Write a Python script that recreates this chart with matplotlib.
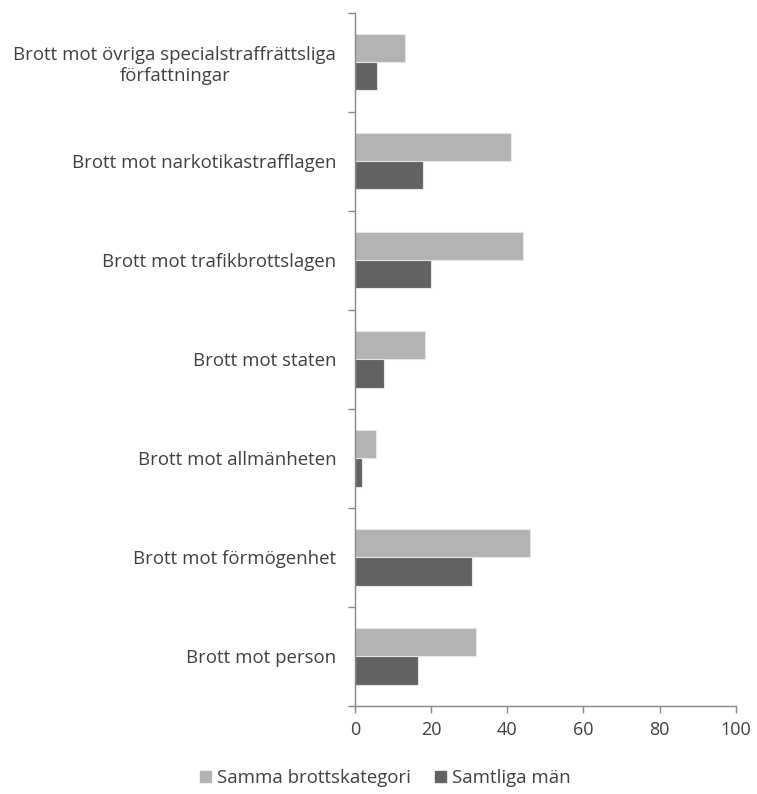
import numpy as np
import matplotlib.pyplot as plt
from matplotlib.patches import Patch

categories = ["Brott mot person", "Brott mot förmögenhet", "Brott mot allmänheten",
              "Brott mot staten", "Brott mot trafikbrottslagen",
              "Brott mot narkotikastrafflagen",
              "Brott mot övriga specialstraffrättsliga\nförfattningar"]
samma = [31.8, 46.0, 5.4, 18.3, 44.2, 40.9, 13.2]
samtliga = [16.5, 30.7, 1.8, 7.5, 20.0, 17.9, 5.8]
xticks = [0, 20, 40, 60, 80, 100]

plt.rcParams['font.family'] = ['Open Sans', 'DejaVu Sans']
textcol = '#404040'
axcol = '#888888'
fs = 13.4

fig = plt.figure(figsize=(7.57, 7.94), dpi=100)
ax = fig.add_axes([0.469, 0.111, 0.503, 0.873])

y = np.arange(len(categories))
h = 0.285
ax.barh(y + h / 2, samma, height=h, color='#b3b3b3', edgecolor='#e6e6e6', linewidth=0.8,
        label='Samma brottskategori')
ax.barh(y - h / 2, samtliga, height=h, color='#626262', edgecolor='#e6e6e6', linewidth=0.8,
        label='Samtliga män')

ax.set_xlim(0, 100)
ax.set_ylim(-0.5, len(categories) - 0.5)
ax.set_xticks(xticks)
ax.set_xticklabels([str(v) for v in xticks])
ax.set_yticks(y)
ax.set_yticklabels(categories, ha='right', multialignment='center')
ax.set_yticks(np.arange(len(categories) + 1) - 0.5, minor=True)
ax.tick_params(axis='y', which='major', length=0, pad=13.5, labelsize=fs, labelcolor=textcol)
ax.tick_params(axis='y', which='minor', length=5, color=axcol, width=1)
ax.tick_params(axis='x', length=5, color=axcol, width=1, labelsize=13, labelcolor=textcol, pad=6)

for s in ['top', 'right']:
    ax.spines[s].set_visible(False)
for s in ['left', 'bottom']:
    ax.spines[s].set_color(axcol)
    ax.spines[s].set_linewidth(1)

handles = [Patch(color='#b3b3b3'), Patch(color='#626262')]
fig.legend(handles, ['Samma brottskategori', 'Samtliga män'], loc='center',
           bbox_to_anchor=(0.509, 0.02), ncol=2, frameon=False, fontsize=fs,
           labelcolor=textcol, handlelength=0.6, handleheight=0.6, handletextpad=0.3,
           columnspacing=1.3)

fig.savefig('out.png', dpi=100, facecolor='white')
